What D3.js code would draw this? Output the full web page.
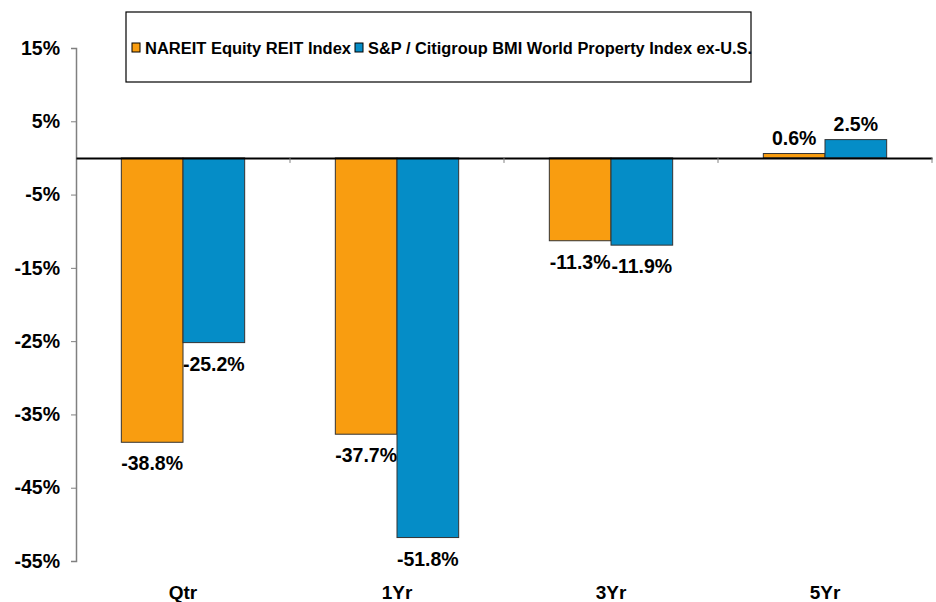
<!DOCTYPE html>
<html>
<head>
<meta charset="utf-8">
<script src="https://cdn.jsdelivr.net/npm/d3@7"></script>
<style>
  body { margin: 0; background: #fff; }
  svg { font-family: "Liberation Sans", Arial, sans-serif; font-weight: bold; }
</style>
</head>
<body>
<div id="chart"></div>
<script>
const categories = ["Qtr", "1Yr", "3Yr", "5Yr"];
const seriesNames = ["NAREIT Equity REIT Index", "S&P / Citigroup BMI World Property Index ex-U.S."];
const nareit = [-38.8, -37.7, -11.3, 0.6];
const spCiti = [-25.2, -51.8, -11.9, 2.5];
const yTicks = [15, 5, -5, -15, -25, -35, -45, -55];
const colors = ["#F99D10", "#058DC7"];

const width = 936, height = 602;
const margin = {top: 48, right: 4, bottom: 41, left: 76};
const plotW = width - margin.left - margin.right;
const plotH = height - margin.top - margin.bottom;

const svg = d3.select("#chart").append("svg")
    .attr("width", width).attr("height", height);
const g = svg.append("g").attr("transform", `translate(${margin.left},${margin.top})`);

const y = d3.scaleLinear().domain([-55, 15]).range([plotH, 0]);
const x0 = d3.scaleBand().domain(categories).range([0, plotW]).paddingInner(0).paddingOuter(0);
const x1 = d3.scaleBand().domain([0, 1]).range([0, x0.bandwidth()]).paddingOuter(0.735).paddingInner(0);

const rows = categories.map((c, i) => ({cat: c, vals: [nareit[i], spCiti[i]]}));

// y axis
const yAxis = g.append("g").call(d3.axisLeft(y).tickValues(yTicks).tickSize(5).tickFormat(d => d + "%"));
yAxis.select(".domain").attr("stroke", "#808080").attr("stroke-width", 1.5);
yAxis.selectAll(".tick line").attr("stroke", "#808080");
yAxis.selectAll(".tick text").attr("x", -16).attr("font-size", 19.5).attr("font-weight", "bold")
    .attr("font-family", "Liberation Sans, Arial, sans-serif").attr("fill", "#000");

// bars
const groups = g.selectAll(".cat").data(rows).join("g")
    .attr("class", "cat").attr("transform", d => `translate(${x0(d.cat)},0)`);
groups.selectAll("rect").data(d => d.vals.map((v, k) => ({v, k}))).join("rect")
    .attr("x", d => x1(d.k))
    .attr("width", x1.bandwidth())
    .attr("y", d => y(Math.max(0, d.v)))
    .attr("height", d => Math.abs(y(d.v) - y(0)))
    .attr("fill", d => colors[d.k])
    .attr("stroke", "#333").attr("stroke-width", 1);

groups.selectAll("text.val").data(d => d.vals.map((v, k) => ({v, k}))).join("text")
    .attr("class", "val")
    .attr("x", d => x1(d.k) + x1.bandwidth() / 2)
    .attr("y", d => d.v < 0 ? y(d.v) + 28 : y(d.v) - 9)
    .attr("text-anchor", "middle")
    .attr("font-size", 19.5)
    .text(d => d.v.toFixed(1) + "%");

// zero line with category ticks
const xAxis = g.append("g").attr("transform", `translate(0,${y(0)})`)
    .call(d3.axisBottom(x0).tickValues([]).tickSizeOuter(0));
xAxis.select(".domain").attr("stroke", "#000").attr("stroke-width", 2);
xAxis.selectAll(".sep").data(d3.range(1, categories.length + 1)).join("line")
    .attr("x1", i => i * x0.bandwidth()).attr("x2", i => i * x0.bandwidth())
    .attr("y1", 0).attr("y2", 5).attr("stroke", "#808080");

// category labels
g.selectAll(".catlabel").data(categories).join("text")
    .attr("x", d => x0(d) + x0.bandwidth() / 2)
    .attr("y", plotH + 38)
    .attr("text-anchor", "middle")
    .attr("font-size", 19)
    .text(d => d);

// legend
const lg = svg.append("g");
lg.append("rect").attr("x", 126).attr("y", 12).attr("width", 625).attr("height", 70)
    .attr("fill", "#fff").attr("stroke", "#000").attr("stroke-width", 1.2);
const legendX = [132, 355];
const legendLen = [206, 384];
seriesNames.forEach((name, k) => {
  lg.append("rect").attr("x", legendX[k]).attr("y", 43).attr("width", 8).attr("height", 9)
      .attr("fill", colors[k]).attr("stroke", "#000").attr("stroke-width", 1);
  lg.append("text").attr("x", legendX[k] + 13).attr("y", 54)
      .attr("font-size", 16)
      .attr("textLength", legendLen[k]).attr("lengthAdjust", "spacingAndGlyphs")
      .text(name);
});
</script>
</body>
</html>
